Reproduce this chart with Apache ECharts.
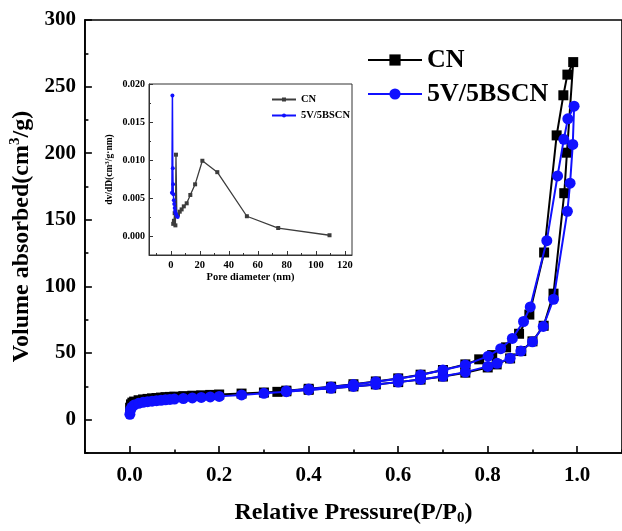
<!DOCTYPE html>
<html>
<head>
<meta charset="utf-8">
<script src="https://cdn.jsdelivr.net/npm/echarts@6/dist/echarts.min.js"></script>
<style>html,body{margin:0;padding:0;background:#fff}#c{width:622px;height:531px}</style>
</head>
<body>
<div id="c"></div>
<script>
// ---- Main isotherm data (relative pressure P/P0, volume cm3/g) ----
const cnAdsP = [0.001,0.003,0.006,0.01,0.02,0.03,0.04,0.05,0.06,0.07,0.08,0.09,0.1,0.12,0.14,0.16,0.18,0.2,0.25,0.3,0.35,0.4,0.45,0.5,0.55,0.6,0.65,0.7,0.75,0.8,0.82,0.85,0.875,0.9,0.925,0.947,0.971,0.977,0.991];
const cnAdsV = [9,11.5,12.8,13.6,14.6,15.2,15.6,16.0,16.3,16.6,16.9,17.1,17.3,17.7,18.0,18.3,18.6,18.9,19.6,20.4,21.3,22.4,23.6,25.0,26.5,28.2,30.1,32.4,35.3,39.2,41.5,46.0,51.5,58.8,70.5,94.6,170,200.4,268.4];
const cnDesP = [0.978,0.969,0.954,0.926,0.893,0.87,0.841,0.81,0.781,0.75,0.7,0.65,0.6,0.55,0.5,0.45,0.4,0.35,0.33];
const cnDesV = [259,243.5,213.4,125.5,78.9,64.5,54.3,48.5,45.3,41.5,37.3,33.8,31.0,28.7,26.6,24.8,23.2,21.8,20.9];
const bsAdsP = [0.0005,0.002,0.005,0.01,0.02,0.03,0.04,0.05,0.06,0.07,0.08,0.09,0.1,0.12,0.14,0.16,0.18,0.2,0.25,0.3,0.35,0.4,0.45,0.5,0.55,0.6,0.65,0.7,0.75,0.8,0.821,0.85,0.874,0.9,0.924,0.947,0.978,0.984,0.99,0.993];
const bsAdsV = [4,7.5,9.5,11,12.3,13,13.5,13.9,14.3,14.6,14.9,15.2,15.5,15.9,16.3,16.7,17.1,17.5,18.6,19.8,21.0,22.3,23.6,25.0,26.5,28.2,30.2,32.6,35.7,40.0,42.3,46.1,51.5,58.5,70.0,90.4,156.4,177.5,206.6,235.3];
const bsDesP = [0.979,0.97,0.956,0.932,0.895,0.88,0.855,0.829,0.801,0.75,0.7,0.65,0.6,0.55,0.5,0.45,0.4,0.35];
const bsDesV = [225.8,210.4,183,134.4,84.6,73.7,61,53.3,47.7,41.1,37.3,33.6,30.8,28.5,26.4,24.6,23.0,21.6];

// ---- Inset pore size distribution data (pore diameter nm, dV/dD) ----
const cnPoreD = [1.7,2.2,2.7,3.2,3.6,4.2,5.0,6.2,7.5,9.0,11.0,13.5,16.8,21.8,32.1,52.5,74.1,109.5];
const cnPoreV = [0.0016,0.0020,0.0030,0.0014,0.0107,0.0027,0.0028,0.0032,0.0035,0.0039,0.0043,0.0054,0.0068,0.0099,0.0084,0.0026,0.00105,0.0001];
const bsPoreD = [0.8,1.15,1.4,1.6,1.8,2.1,2.4,2.7,3.0,3.4,3.8,4.3,4.8];
const bsPoreV = [0.0057,0.0185,0.0089,0.0068,0.0055,0.0047,0.0042,0.0037,0.0033,0.0030,0.0028,0.0026,0.0025];

// ---- Tick definitions ----
const mainXMajor = [0,0.2,0.4,0.6,0.8,1.0];
const mainXMinor = [-0.1,0.1,0.3,0.5,0.7,0.9,1.1];
const mainYMajor = [0,50,100,150,200,250,300];
const mainYMinor = [-25,25,75,125,175,225,275];
const insXMajor = [0,20,40,60,80,100,120];
const insXMinor = [-10,10,30,50,70,90,110];
const insYMajor = [0,0.005,0.010,0.015,0.020];
const insYMinor = [0.0025,0.0075,0.0125,0.0175];

const zip = (a,b) => a.map((v,i)=>[v,b[i]]);
const cnMain = zip(cnAdsP,cnAdsV).concat(zip(cnDesP,cnDesV));
const bsMain = zip(bsAdsP,bsAdsV).concat(zip(bsDesP,bsDesV));

const FONT = 'Liberation Serif';
const BLUE = '#1010ff';

const chart = echarts.init(document.getElementById('c'), null, {renderer:'canvas'});
chart.setOption({
  animation:false,
  backgroundColor:'#fff',
  textStyle:{fontFamily:FONT, fontWeight:'bold', color:'#000'},
  grid:[
    {left:83, top:20, right:-6, bottom:78, show:true, borderColor:'#000', borderWidth:1.6, backgroundColor:'transparent'},
    {left:149, top:84, width:203, height:171, show:true, borderColor:'#333', borderWidth:1, backgroundColor:'transparent'}
  ],
  xAxis:[
    {gridIndex:0, type:'value', min:-0.1, max:1.1, interval:0.1,
     axisLine:{onZero:false, lineStyle:{color:'#000', width:1.6}}, splitLine:{show:false},
     axisTick:{inside:true, length:7, customValues:mainXMajor, lineStyle:{color:'#000', width:1.6}},
     axisLabel:{customValues:mainXMajor, formatter:v=>v.toFixed(1), fontSize:21, fontWeight:'bold', fontFamily:FONT, color:'#000', margin:12},
     name:'Relative Pressure(P/P{sub|0})', nameLocation:'middle', nameGap:46,
     nameTextStyle:{fontSize:24, fontWeight:'bold', fontFamily:FONT, color:'#000',
       rich:{sub:{fontSize:15, fontWeight:'bold', fontFamily:FONT, verticalAlign:'bottom', padding:[12,0,0,0]}}}},
    {gridIndex:0, type:'value', min:-0.1, max:1.1, position:'bottom',
     axisLine:{show:false, onZero:false}, splitLine:{show:false}, axisLabel:{show:false},
     axisTick:{inside:true, length:3.5, customValues:mainXMinor, lineStyle:{color:'#000', width:1.6}}},
    {gridIndex:1, type:'value', min:-15, max:125, interval:5,
     axisLine:{onZero:false, lineStyle:{color:'#333', width:1}}, splitLine:{show:false},
     axisTick:{inside:true, length:4, customValues:insXMajor, lineStyle:{color:'#333'}},
     axisLabel:{customValues:insXMajor, fontSize:10.5, fontWeight:'bold', fontFamily:FONT, color:'#000', margin:5},
     name:'Pore diameter (nm)', nameLocation:'middle', nameGap:17,
     nameTextStyle:{fontSize:10.5, fontWeight:'bold', fontFamily:FONT, color:'#000'}},
    {gridIndex:1, type:'value', min:-15, max:125, position:'bottom',
     axisLine:{show:false, onZero:false}, splitLine:{show:false}, axisLabel:{show:false},
     axisTick:{inside:true, length:2, customValues:insXMinor, lineStyle:{color:'#333'}}}
  ],
  yAxis:[
    {gridIndex:0, type:'value', min:-25, max:300, interval:25,
     axisLine:{onZero:false, lineStyle:{color:'#000', width:1.6}}, splitLine:{show:false},
     axisTick:{inside:true, length:7, customValues:mainYMajor, lineStyle:{color:'#000', width:1.6}},
     axisLabel:{customValues:mainYMajor, fontSize:21, fontWeight:'bold', fontFamily:FONT, color:'#000', margin:9},
     name:'Volume absorbed(cm{sup|3}/g)', nameLocation:'middle', nameGap:44,
     nameTextStyle:{fontSize:24, fontWeight:'bold', fontFamily:FONT, color:'#000',
       rich:{sup:{fontSize:15, fontWeight:'bold', fontFamily:FONT, verticalAlign:'top', padding:[0,0,12,0]}}}},
    {gridIndex:0, type:'value', min:-25, max:300, position:'left',
     axisLine:{show:false, onZero:false}, splitLine:{show:false}, axisLabel:{show:false},
     axisTick:{inside:true, length:3.5, customValues:mainYMinor, lineStyle:{color:'#000', width:1.6}}},
    {gridIndex:1, type:'value', min:-0.0025, max:0.02, interval:0.0025,
     axisLine:{onZero:false, lineStyle:{color:'#333', width:1}}, splitLine:{show:false},
     axisTick:{inside:true, length:4, customValues:insYMajor, lineStyle:{color:'#333'}},
     axisLabel:{customValues:insYMajor, formatter:v=>v.toFixed(3), fontSize:10, fontWeight:'bold', fontFamily:FONT, color:'#000', margin:4},
     name:'dv/dD(cm{sup|3}/g·nm)', nameLocation:'middle', nameGap:33,
     nameTextStyle:{fontSize:9.5, fontWeight:'bold', fontFamily:FONT, color:'#000',
       rich:{sup:{fontSize:7, fontWeight:'bold', fontFamily:FONT, verticalAlign:'top', padding:[0,0,5,0]}}}},
    {gridIndex:1, type:'value', min:-0.0025, max:0.02, position:'left',
     axisLine:{show:false, onZero:false}, splitLine:{show:false}, axisLabel:{show:false},
     axisTick:{inside:true, length:2, customValues:insYMinor, lineStyle:{color:'#333'}}}
  ],
  legend:[
    {data:['CN','5V/5BSCN'], orient:'vertical', left:362, top:42, itemWidth:54, itemHeight:14, itemGap:8,
     textStyle:{fontSize:26, fontWeight:'bold', fontFamily:FONT, color:'#000'}},
    {data:['CN-inset','5V/5BSCN-inset'], orient:'vertical', left:266, top:89, itemWidth:24, itemHeight:5, itemGap:5,
     formatter:n=>n.replace('-inset',''),
     textStyle:{fontSize:10.5, fontWeight:'bold', fontFamily:FONT, color:'#000'}}
  ],
  series:[
    {name:'CN', type:'line', xAxisIndex:0, yAxisIndex:0, data:cnMain,
     symbol:'rect', symbolSize:10, color:'#000', lineStyle:{width:2, color:'#000'}, itemStyle:{color:'#000'}, z:2},
    {name:'5V/5BSCN', type:'line', xAxisIndex:0, yAxisIndex:0, data:bsMain,
     symbol:'circle', symbolSize:11, color:BLUE, lineStyle:{width:2, color:BLUE}, itemStyle:{color:BLUE}, z:3},
    {name:'CN-inset', type:'line', xAxisIndex:2, yAxisIndex:2, data:zip(cnPoreD,cnPoreV),
     symbol:'rect', symbolSize:4, color:'#3c3c3c', lineStyle:{width:1.3, color:'#3c3c3c'}, itemStyle:{color:'#3c3c3c'}, z:4},
    {name:'5V/5BSCN-inset', type:'line', xAxisIndex:2, yAxisIndex:2, data:zip(bsPoreD,bsPoreV),
     symbol:'circle', symbolSize:4, color:BLUE, lineStyle:{width:1.5, color:BLUE}, itemStyle:{color:BLUE}, z:5}
  ]
});
</script>
</body>
</html>
